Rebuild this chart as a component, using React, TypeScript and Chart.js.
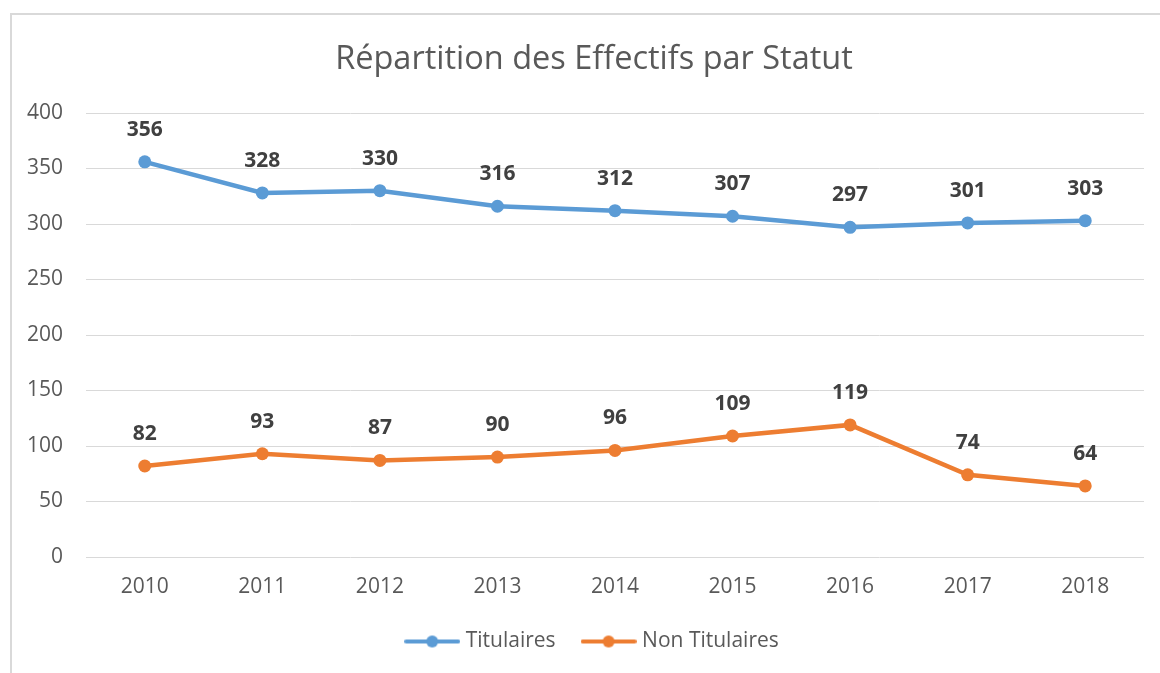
import React, { useEffect, useRef } from "react";
import { Chart, registerables } from "chart.js";

Chart.register(...registerables);

const categories = ["2010", "2011", "2012", "2013", "2014", "2015", "2016", "2017", "2018"];
const titulaires = [356, 328, 330, 316, 312, 307, 297, 301, 303];
const nonTitulaires = [82, 93, 87, 90, 96, 109, 119, 74, 64];
const seriesNames = ["Titulaires", "Non Titulaires"];
const seriesColors = ["#5B9BD5", "#ED7D31"];
const yTicks = { min: 0, max: 400, step: 50 };
const chartTitle = "Répartition des Effectifs par Statut";

const FONT = "'Open Sans'";

function makeMarker(color: string): HTMLCanvasElement {
  const c = document.createElement("canvas");
  c.width = 56;
  c.height = 14;
  const ctx = c.getContext("2d")!;
  ctx.strokeStyle = color;
  ctx.lineWidth = 4;
  ctx.lineCap = "round";
  ctx.beginPath();
  ctx.moveTo(2, 7);
  ctx.lineTo(54, 7);
  ctx.stroke();
  ctx.fillStyle = color;
  ctx.beginPath();
  ctx.arc(28, 7, 6, 0, Math.PI * 2);
  ctx.fill();
  return c;
}

const dataLabelsPlugin = {
  id: "dataLabels",
  afterDatasetsDraw(chart: any) {
    const ctx = chart.ctx;
    ctx.save();
    ctx.font = `bold 21px ${FONT}`;
    ctx.fillStyle = "#404040";
    ctx.textAlign = "center";
    ctx.textBaseline = "middle";
    chart.data.datasets.forEach((ds: any, i: number) => {
      const meta = chart.getDatasetMeta(i);
      meta.data.forEach((pt: any, j: number) => {
        ctx.fillText(String(ds.data[j]), pt.x, pt.y - 32);
      });
    });
    ctx.restore();
  },
};

export default function App() {
  const ref = useRef<HTMLCanvasElement | null>(null);

  useEffect(() => {
    if (!ref.current) return;
    const markers = seriesColors.map(makeMarker);
    const chart = new Chart(ref.current, {
      type: "line",
      data: {
        labels: categories,
        datasets: [titulaires, nonTitulaires].map((d, i) => ({
          label: seriesNames[i],
          data: d,
          borderColor: seriesColors[i],
          backgroundColor: seriesColors[i],
          borderWidth: 4.5,
          pointRadius: 6.5,
          pointHoverRadius: 6.5,
          pointBorderWidth: 0,
          tension: 0,
          yAxisID: "y",
        })),
      },
      options: {
        responsive: false,
        animation: false,
        layout: { padding: { top: 0, left: 0, right: 16, bottom: 11 } },
        plugins: {
          title: {
            display: true,
            text: chartTitle,
            color: "#595959",
            font: { family: FONT, size: 32.5, weight: "normal" },
            padding: { top: 40, bottom: 34 },
          },
          legend: {
            position: "bottom",
            labels: {
              color: "#595959",
              font: { family: FONT, size: 21 },
              usePointStyle: true,
              pointStyleWidth: 46,
              padding: 30,
              generateLabels: (c: any) => {
                const items = (Chart.defaults as any).plugins.legend.labels.generateLabels(c);
                return items.map((it: any, i: number) => ({ ...it, pointStyle: markers[i] }));
              },
            },
          },
          tooltip: { enabled: false },
        },
        scales: {
          x: {
            offset: true,
            grid: { display: false, drawTicks: false },
            border: { display: false },
            ticks: { color: "#595959", font: { family: FONT, size: 21 }, padding: 17 },
            afterFit: (s: any) => {
              s.height = 44;
            },
          },
          y: {
            position: "left",
            min: yTicks.min,
            max: yTicks.max,
            grid: { color: "#d9d9d9", drawTicks: false, lineWidth: 1 },
            border: { display: false },
            ticks: {
              stepSize: yTicks.step,
              color: "#595959",
              font: { family: FONT, size: 21 },
              padding: 23,
            },
            afterFit: (s: any) => {
              s.width = 86;
            },
          },
          yRight: {
            position: "right",
            display: true,
            min: yTicks.min,
            max: yTicks.max,
            grid: { display: false, drawTicks: false },
            border: { display: false },
            ticks: { display: false },
            afterFit: (s: any) => {
              s.width = 44;
            },
          },
        },
      },
      plugins: [dataLabelsPlugin],
    } as any);
    return () => chart.destroy();
  }, []);

  return (
    <div style={{ position: "absolute", left: 0, top: 0, width: 1160, height: 673, background: "#fff", overflow: "hidden" }}>
      <div
        style={{
          position: "absolute",
          left: 10,
          top: 13,
          right: 0,
          bottom: 0,
          borderLeft: "2px solid #d9d9d9",
          borderTop: "2px solid #d9d9d9",
        }}
      />
      <canvas ref={ref} width={1204} height={673} style={{ position: "absolute", left: 0, top: 0 }} />
    </div>
  );
}
